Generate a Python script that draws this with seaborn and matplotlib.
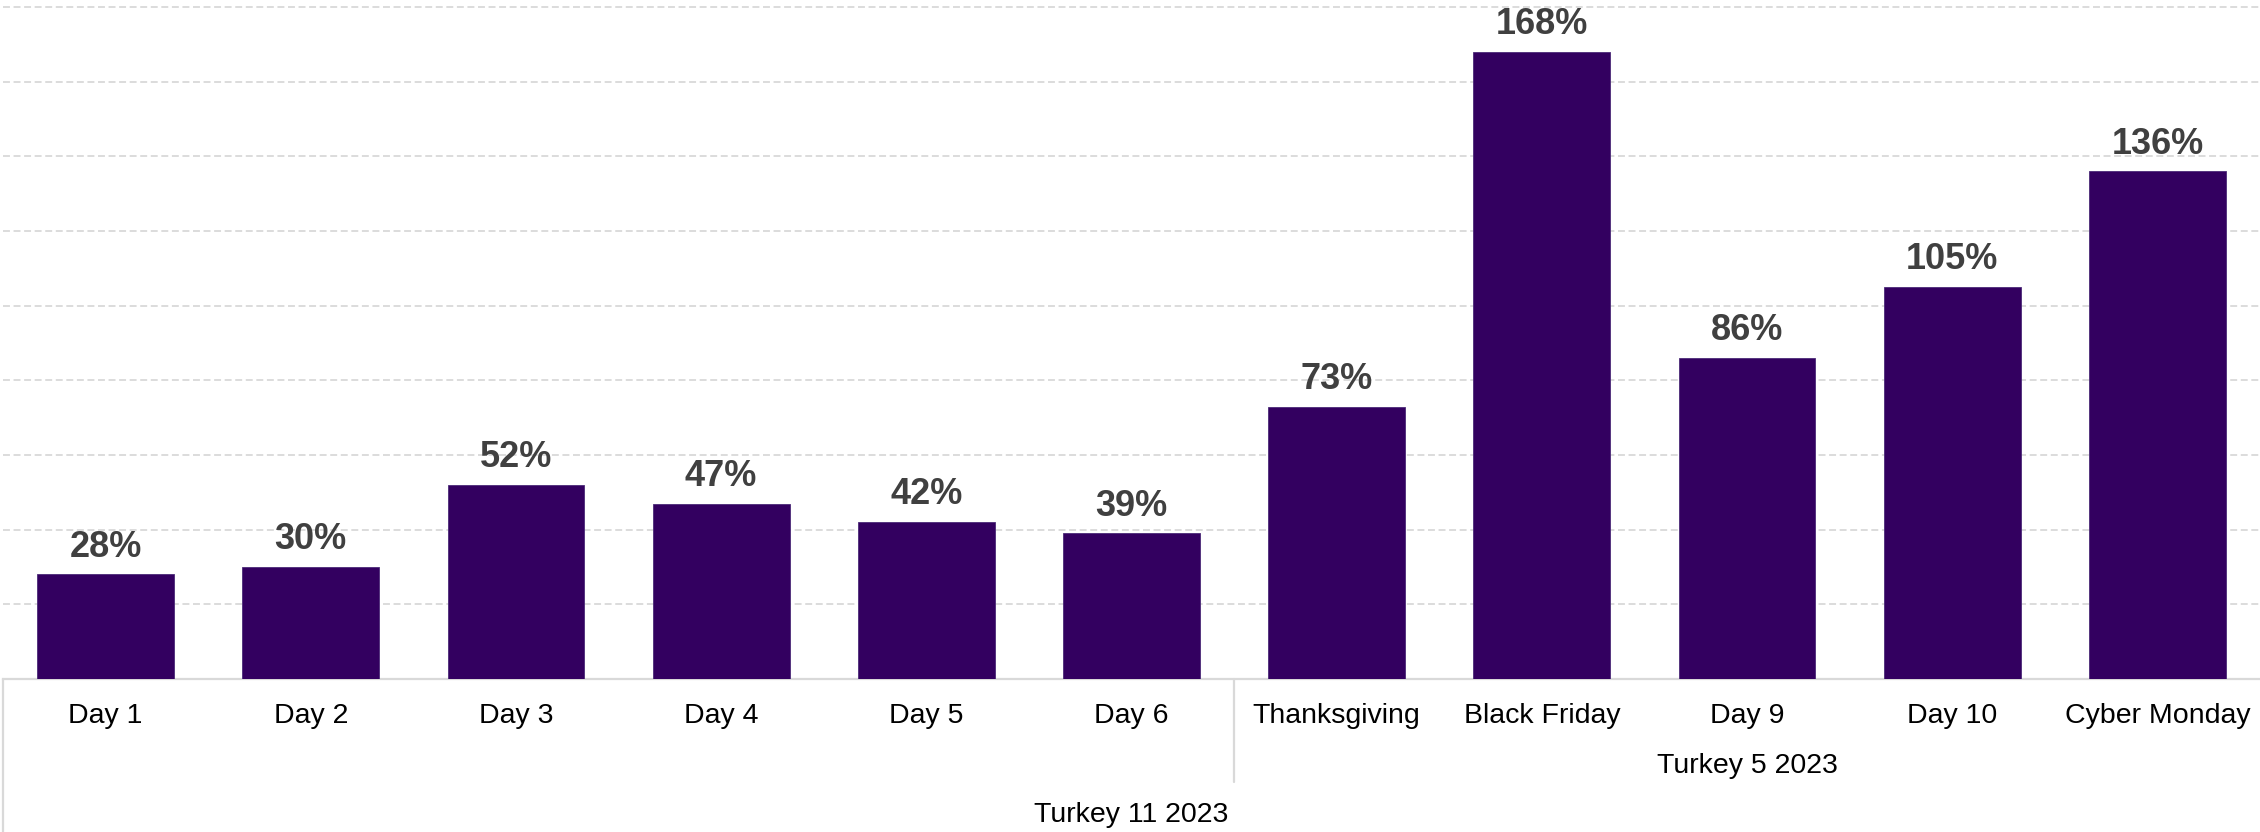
import matplotlib
matplotlib.use("Agg")
import matplotlib.pyplot as plt
import matplotlib.transforms as mtransforms
import seaborn as sns
import pandas as pd

# Daily uplift, grouped on a three-level category axis
days = ["Day 1", "Day 2", "Day 3", "Day 4", "Day 5", "Day 6",
        "Thanksgiving", "Black Friday", "Day 9", "Day 10", "Cyber Monday"]
uplift = [28, 30, 52, 47, 42, 39, 73, 168, 86, 105, 136]
group_mid = "Turkey 5 2023"      # spans the last five days
group_mid_start = 6
group_top = "Turkey 11 2023"     # spans all eleven days

df = pd.DataFrame({"day": days, "uplift": uplift})

sns.set_theme(style="white")
plt.rcParams["font.family"] = ["Liberation Sans", "DejaVu Sans"]
plt.rcParams["lines.scale_dashes"] = False

W, H = 2260, 832
fig = plt.figure(figsize=(W / 100, H / 100), dpi=100)
ax = fig.add_axes([3 / W, 1 - 679 / H, 1 - 3 / W, 679 / H])

bar_color = "#330060"
grid_color = "#D9D9D9"
sns.barplot(data=df, x="day", y="uplift", color=bar_color, width=0.667,
            saturation=1, ax=ax, edgecolor="#4B2A78", linewidth=0.6, zorder=3)

ax.set_xlim(-0.5, len(days) - 0.5)
ax.set_ylim(0, 181.9)
ax.set_yticks(range(20, 181, 20))
ax.yaxis.grid(True, color=grid_color, linewidth=1.3, dashes=(5, 2.6), zorder=0)
ax.set_axisbelow(True)
for s in ["left", "right", "top"]:
    ax.spines[s].set_visible(False)
ax.spines["bottom"].set_color(grid_color)
ax.spines["bottom"].set_linewidth(1.6)
ax.set_xlabel("")
ax.set_ylabel("")
ax.set_xticks([])
ax.set_yticks(range(20, 181, 20))
ax.tick_params(axis="y", length=0, labelleft=False)

# Value labels above each bar
for i, v in enumerate(uplift):
    ax.annotate(f"{v}%", (i, v), xytext=(0, 7), textcoords="offset points",
                ha="center", va="bottom", fontsize=26, fontweight="bold",
                color="#404040")

# Multi-level category axis below the plot
tr = mtransforms.blended_transform_factory(ax.transData, fig.transFigure)
def fy(px):
    return 1 - px / H

label_size = 20.5
for i, d in enumerate(days):
    ax.text(i, fy(716), d, transform=tr, ha="center", va="center",
            fontsize=label_size, color="black")

mid_center = (group_mid_start + len(days) - 1) / 2
ax.text(mid_center, fy(766), group_mid, transform=tr, ha="center",
        va="center", fontsize=label_size, color="black")
ax.text((len(days) - 1) / 2, fy(815), group_top, transform=tr, ha="center",
        va="center", fontsize=label_size, color="black")

# Separator lines between category groups
ax.plot([-0.5, -0.5], [fy(679), 0], transform=tr, color=grid_color,
        linewidth=1.6, clip_on=False)
ax.plot([group_mid_start - 0.5] * 2, [fy(679), fy(782)], transform=tr,
        color=grid_color, linewidth=1.6, clip_on=False)

fig.savefig("out.png", dpi=100)
